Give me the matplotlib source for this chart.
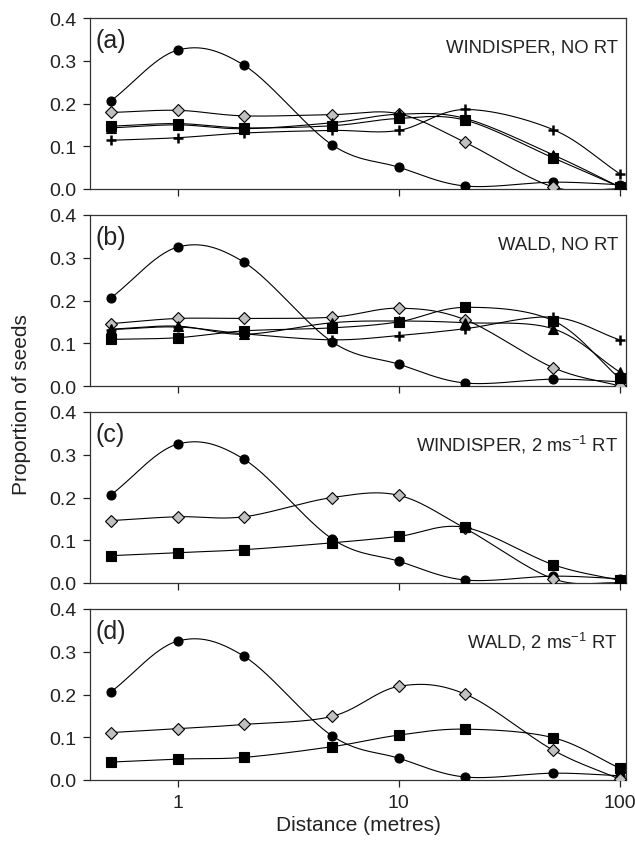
#seed dispersal curves, 4 stacked panels, log distance axis
import numpy as np
import matplotlib
matplotlib.use('Agg')
from matplotlib import pyplot as plt

plt.rcParams['font.family'] = ['Liberation Sans', 'DejaVu Sans']
plt.rcParams['mathtext.default'] = 'regular'

#distances (metres)
dist = [0.5, 1, 2, 5, 10, 20, 50, 100]

#observed (circles) - same in every panel
observed = [0.207, 0.325, 0.289, 0.103, 0.051, 0.007, 0.016, 0.010]

#panel (a) WINDISPER, NO RT
a_diamond = [0.179, 0.184, 0.171, 0.174, 0.176, 0.109, 0.005, 0.000]
a_triangle = [0.143, 0.150, 0.141, 0.155, 0.175, 0.165, 0.080, 0.005]
a_square = [0.147, 0.153, 0.143, 0.148, 0.165, 0.161, 0.073, 0.005]
a_plus = [0.114, 0.120, 0.131, 0.137, 0.137, 0.186, 0.139, 0.036]

#panel (b) WALD, NO RT
b_diamond = [0.146, 0.158, 0.158, 0.161, 0.182, 0.155, 0.043, 0.000]
b_triangle = [0.133, 0.140, 0.121, 0.148, 0.152, 0.148, 0.134, 0.033]
b_square = [0.109, 0.113, 0.129, 0.136, 0.150, 0.184, 0.153, 0.018]
b_plus = [0.132, 0.138, 0.122, 0.108, 0.118, 0.134, 0.161, 0.108]

#panel (c) WINDISPER, 2 m/s RT
c_diamond = [0.146, 0.155, 0.155, 0.200, 0.205, 0.128, 0.010, 0.000]
c_square = [0.064, 0.071, 0.078, 0.094, 0.109, 0.130, 0.043, 0.006]

#panel (d) WALD, 2 m/s RT
d_diamond = [0.111, 0.120, 0.130, 0.149, 0.219, 0.201, 0.070, 0.002]
d_square = [0.042, 0.049, 0.053, 0.078, 0.105, 0.119, 0.099, 0.028]

panel_tags = ['(a)', '(b)', '(c)', '(d)']
panel_titles = ['WINDISPER, NO RT', 'WALD, NO RT',
                'WINDISPER, 2 ms$^{-1}$ RT', 'WALD, 2 ms$^{-1}$ RT']


def smooth(x, y, n=30):
    #excel style smoothed line (catmull-rom through the points, in log x)
    lx = np.log10(np.array(x, float))
    y = np.array(y, float)
    px = np.concatenate([[2*lx[0]-lx[1]], lx, [2*lx[-1]-lx[-2]]])
    py = np.concatenate([[2*y[0]-y[1]], y, [2*y[-1]-y[-2]]])
    xs, ys = [], []
    t = np.linspace(0, 1, n)
    for i in range(1, len(px)-2):
        p0, p1, p2, p3 = px[i-1], px[i], px[i+1], px[i+2]
        q0, q1, q2, q3 = py[i-1], py[i], py[i+1], py[i+2]
        #bezier control points
        c1x, c1y = p1 + (p2-p0)/6, q1 + (q2-q0)/6
        c2x, c2y = p2 - (p3-p1)/6, q2 - (q3-q1)/6
        bx = (1-t)**3*p1 + 3*(1-t)**2*t*c1x + 3*(1-t)*t**2*c2x + t**3*p2
        by = (1-t)**3*q1 + 3*(1-t)**2*t*c1y + 3*(1-t)*t**2*c2y + t**3*q2
        xs.append(bx)
        ys.append(by)
    return 10**np.concatenate(xs), np.concatenate(ys)


def draw(ax, y, marker, fc, ms, mew=0.8):
    sx, sy = smooth(dist, y)
    ax.plot(sx, sy, color='black', lw=0.8, zorder=2)
    ax.plot(dist, y, ls='none', marker=marker, ms=ms, mfc=fc, mec='black',
            mew=mew, zorder=3)


series = [
    [(a_diamond, 'D'), (a_triangle, '^'), (a_square, 's'), (a_plus, '+')],
    [(b_diamond, 'D'), (b_triangle, '^'), (b_square, 's'), (b_plus, '+')],
    [(c_diamond, 'D'), (c_square, 's')],
    [(d_diamond, 'D'), (d_square, 's')],
]

fig = plt.figure(figsize=(6.35, 8.45), dpi=100)
W, H = 635, 845
tops = [19, 216, 413, 610]
ph = 171

for i in range(4):
    ax = fig.add_axes([90/W, 1-(tops[i]+ph)/H, 536/W, ph/H])
    draw(ax, observed, 'o', 'black', 6.5)
    for vals, m in series[i]:
        if m == 'D':
            draw(ax, vals, 'D', '#c0c0c0', 6.3)
        elif m == '^':
            draw(ax, vals, '^', 'black', 6.5)
        elif m == 's':
            draw(ax, vals, 's', 'black', 6.5)
        else:
            draw(ax, vals, '+', 'black', 7, mew=1.8)
    ax.set_xscale('log')
    ax.set_xlim(0.40, 107)
    ax.set_ylim(0, 0.4)
    ax.set_yticks([0, 0.1, 0.2, 0.3, 0.4])
    ax.set_yticklabels(['0.0', '0.1', '0.2', '0.3', '0.4'])
    ax.set_xticks([1, 10, 100])
    ax.xaxis.set_minor_locator(matplotlib.ticker.NullLocator())
    ax.tick_params(direction='out', length=5, width=0.9, labelsize=14,
                   colors='#222222', pad=5)
    for s in ax.spines.values():
        s.set_linewidth(0.9)
        s.set_color('#333333')
    if i < 3:
        ax.set_xticklabels([])
    else:
        ax.set_xticklabels(['1', '10', '100'])
        ax.set_xlabel('Distance (metres)', fontsize=15, color='#222222',
                      labelpad=3)
    ax.text(0.01, 0.94, panel_tags[i], transform=ax.transAxes, fontsize=18,
            ha='left', va='top', color='#222222')
    ax.text(0.985, 0.88, panel_titles[i], transform=ax.transAxes,
            fontsize=13.3, ha='right', va='top', color='#222222')

fig.text(22/W, 1-405/H, 'Proportion of seeds', rotation=90, fontsize=15,
         ha='center', va='center', color='#222222')

plt.savefig('out.png', dpi=100)
